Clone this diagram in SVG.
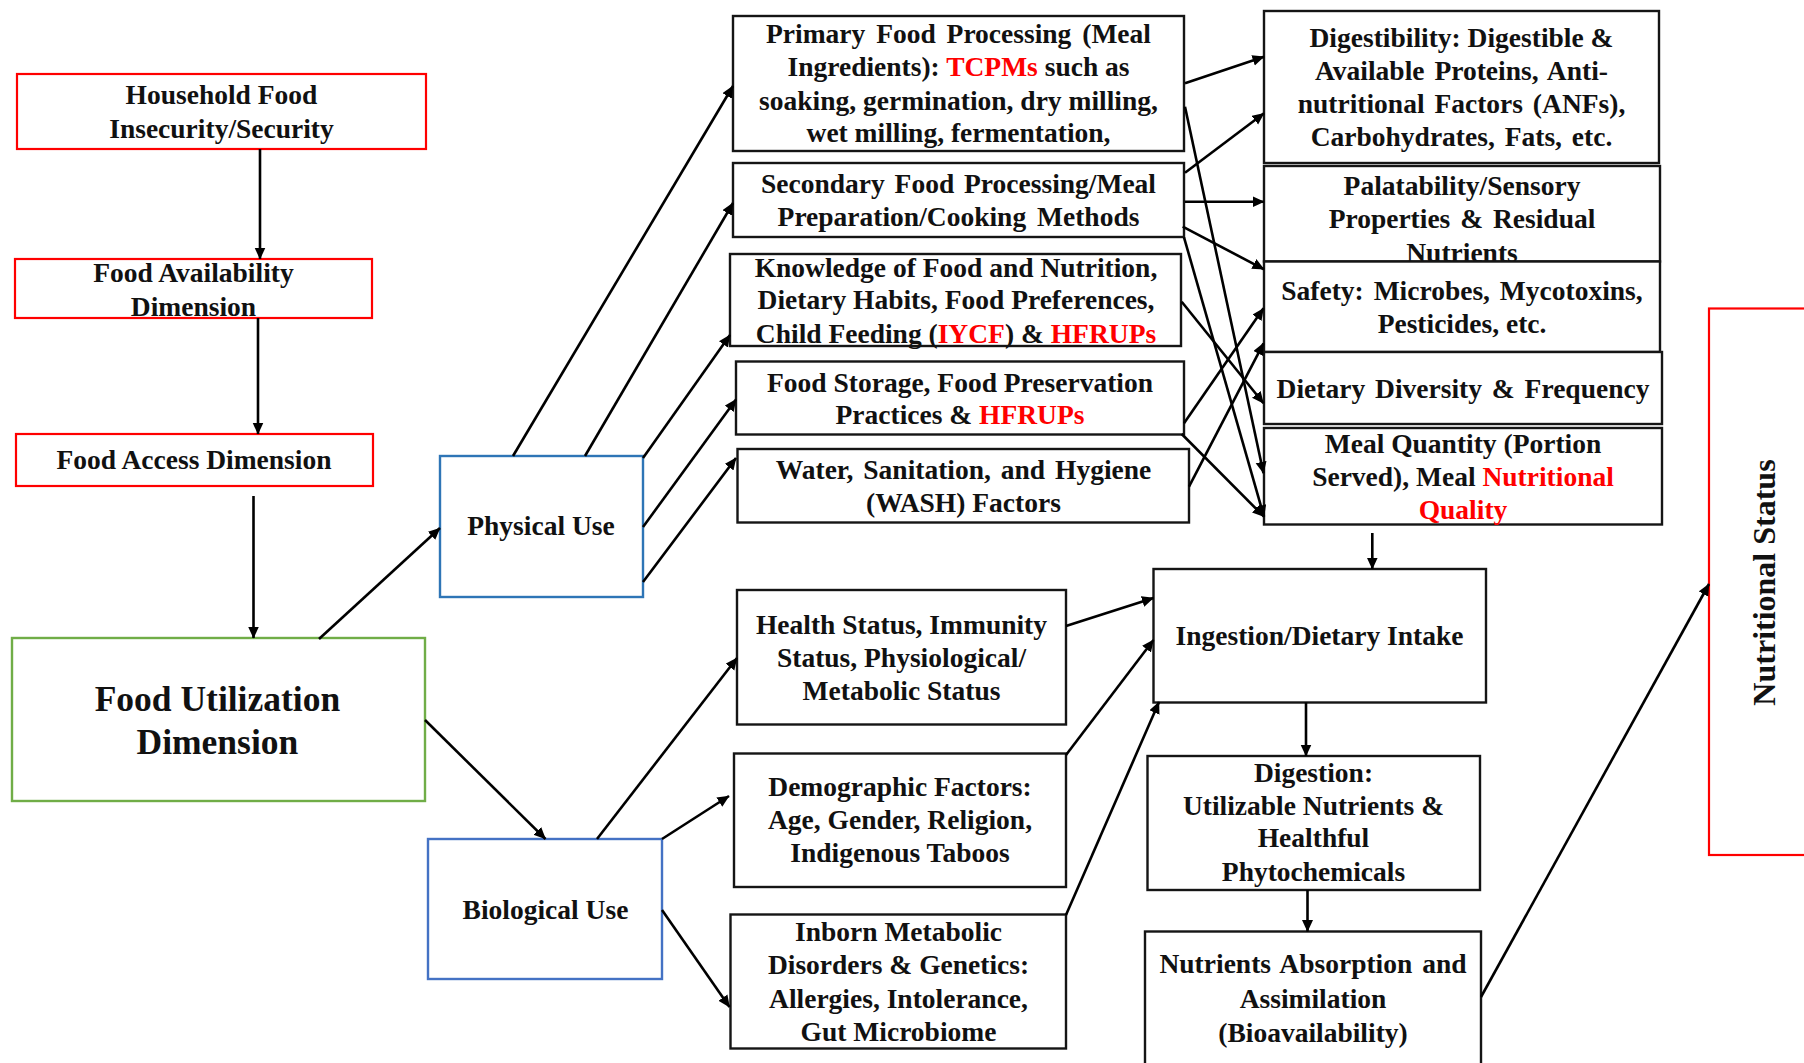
<svg xmlns="http://www.w3.org/2000/svg" width="1804" height="1063" viewBox="0 0 1804 1063">
  <style>
    .box { fill: #ffffff; stroke: #151515; stroke-width: 2.4; }
    .red { fill: #ffffff; stroke: #ff0000; stroke-width: 2.2; }
    .green { fill: #ffffff; stroke: #70ad47; stroke-width: 2.4; }
    .blue1 { fill: #ffffff; stroke: #2e75b6; stroke-width: 2.4; }
    .blue2 { fill: #ffffff; stroke: #4472c4; stroke-width: 2.4; }
    text { font-family: "Liberation Serif", "Times New Roman", serif; font-weight: bold; font-size: 27.5px; fill: #111111; text-anchor: middle; }
    .big { font-size: 35.5px; }
    .side { font-size: 32px; }
    .hl { fill: #ff0000; }
    .conn line { stroke: #000000; stroke-width: 2.6; fill: none; marker-end: url(#arrow); }
  </style>
  <defs>
    <marker id="arrow" markerUnits="userSpaceOnUse" markerWidth="13" markerHeight="12" refX="11.5" refY="5.5" orient="auto">
      <path d="M0,0 L12,5.5 L0,11 z" fill="#000000"/>
    </marker>
  </defs>

  <rect width="1804" height="1063" fill="#ffffff"/>

  <!-- left column: security dimensions -->
  <g id="household">
    <rect class="red" x="17" y="74" width="409" height="75"/>
    <text x="221.5" y="104.3">Household Food</text>
    <text x="221.5" y="138.3">Insecurity/Security</text>
  </g>
  <g id="availability">
    <rect class="red" x="15" y="259" width="357" height="59"/>
    <text x="193.5" y="281.7">Food Availability</text>
    <text x="193.5" y="315.7">Dimension</text>
  </g>
  <g id="access">
    <rect class="red" x="16" y="434" width="357" height="52"/>
    <text x="194" y="469.3">Food Access Dimension</text>
  </g>
  <g id="utilization">
    <rect class="green" x="12" y="638" width="413" height="163"/>
    <text class="big" x="217.4" y="711">Food Utilization</text>
    <text class="big" x="217.4" y="754">Dimension</text>
  </g>
  <g id="physical-use">
    <rect class="blue1" x="440" y="456" width="203" height="141"/>
    <text x="541" y="535">Physical Use</text>
  </g>
  <g id="biological-use">
    <rect class="blue2" x="428" y="839" width="234" height="140"/>
    <text x="545.5" y="919">Biological Use</text>
  </g>

  <!-- middle column: physical use factors -->
  <g id="primary-processing">
    <rect class="box" x="733" y="16" width="451" height="135"/>
    <text x="958.5" y="43" word-spacing="4">Primary Food Processing (Meal</text>
    <text x="958.5" y="75.8">Ingredients): <tspan class="hl">TCPMs</tspan> such as</text>
    <text x="958.5" y="109.5">soaking, germination, dry milling,</text>
    <text x="958.5" y="142.2">wet milling, fermentation,</text>
  </g>
  <g id="secondary-processing">
    <rect class="box" x="733" y="163" width="451" height="74"/>
    <text x="958.5" y="192.8" word-spacing="3">Secondary Food Processing/Meal</text>
    <text x="958.5" y="225.6" word-spacing="4">Preparation/Cooking Methods</text>
  </g>
  <g id="knowledge">
    <rect class="box" x="730" y="254" width="451" height="92"/>
    <text x="956" y="276.5">Knowledge of Food and Nutrition,</text>
    <text x="956" y="309.2">Dietary Habits, Food Preferences,</text>
    <text x="956" y="342.6">Child Feeding (<tspan class="hl">IYCF</tspan>) &amp; <tspan class="hl">HFRUPs</tspan></text>
  </g>
  <g id="storage">
    <rect class="box" x="736" y="361.5" width="448" height="73"/>
    <text x="960" y="391.5">Food Storage, Food Preservation</text>
    <text x="960" y="424.2">Practices &amp; <tspan class="hl">HFRUPs</tspan></text>
  </g>
  <g id="wash">
    <rect class="box" x="737.5" y="449" width="451.5" height="73.5"/>
    <text x="963.5" y="478.6" word-spacing="3">Water, Sanitation, and Hygiene</text>
    <text x="963.5" y="512">(WASH) Factors</text>
  </g>

  <!-- middle column: biological use factors -->
  <g id="health-status">
    <rect class="box" x="737" y="590" width="329" height="134.5"/>
    <text x="901.5" y="634">Health Status, Immunity</text>
    <text x="901.5" y="667.3">Status, Physiological/</text>
    <text x="901.5" y="700">Metabolic Status</text>
  </g>
  <g id="demographic">
    <rect class="box" x="734" y="753.5" width="332" height="133.5"/>
    <text x="900" y="795.7">Demographic Factors:</text>
    <text x="900" y="829">Age, Gender, Religion,</text>
    <text x="900" y="861.7">Indigenous Taboos</text>
  </g>
  <g id="inborn">
    <rect class="box" x="730.5" y="914.5" width="335.5" height="134"/>
    <text x="898.5" y="941">Inborn Metabolic</text>
    <text x="898.5" y="974">Disorders &amp; Genetics:</text>
    <text x="898.5" y="1007.7">Allergies, Intolerance,</text>
    <text x="898.5" y="1040.7">Gut Microbiome</text>
  </g>

  <!-- right column: meal attributes -->
  <g id="digestibility">
    <rect class="box" x="1264" y="11" width="395" height="152"/>
    <text x="1461.5" y="46.5">Digestibility: Digestible &amp;</text>
    <text x="1461.5" y="79.9" word-spacing="3">Available Proteins, Anti-</text>
    <text x="1461.5" y="112.6" word-spacing="3">nutritional Factors (ANFs),</text>
    <text x="1461.5" y="146.4" word-spacing="3">Carbohydrates, Fats, etc.</text>
  </g>
  <g id="palatability">
    <rect class="box" x="1264" y="166" width="396" height="95.5"/>
    <text x="1462" y="194.6">Palatability/Sensory</text>
    <text x="1462" y="228" word-spacing="3">Properties &amp; Residual</text>
    <text x="1462" y="262">Nutrients</text>
  </g>
  <g id="safety">
    <rect class="box" x="1264" y="261.5" width="396" height="90.5"/>
    <text x="1462" y="299.6" word-spacing="3">Safety: Microbes, Mycotoxins,</text>
    <text x="1462" y="333">Pesticides, etc.</text>
  </g>
  <g id="dietary-diversity">
    <rect class="box" x="1264" y="352" width="398" height="72"/>
    <text x="1463" y="398.4" word-spacing="3">Dietary Diversity &amp; Frequency</text>
  </g>
  <g id="meal-quantity">
    <rect class="box" x="1264" y="428" width="398" height="96.5"/>
    <text x="1463" y="452.8">Meal Quantity (Portion</text>
    <text x="1463" y="486.2">Served), Meal <tspan class="hl">Nutritional</tspan></text>
    <text x="1463" y="519.3" class="hl">Quality</text>
  </g>

  <!-- intake chain -->
  <g id="ingestion">
    <rect class="box" x="1153.5" y="569" width="332.5" height="133.5"/>
    <text x="1319.5" y="645">Ingestion/Dietary Intake</text>
  </g>
  <g id="digestion">
    <rect class="box" x="1147.5" y="756" width="332.5" height="134"/>
    <text x="1313.5" y="781.7">Digestion:</text>
    <text x="1313.5" y="815">Utilizable Nutrients &amp;</text>
    <text x="1313.5" y="847.3">Healthful</text>
    <text x="1313.5" y="881">Phytochemicals</text>
  </g>
  <g id="absorption">
    <rect class="box" x="1145" y="931.5" width="336" height="150"/>
    <text x="1313" y="973.3" word-spacing="3">Nutrients Absorption and</text>
    <text x="1313" y="1007.5">Assimilation</text>
    <text x="1313" y="1042">(Bioavailability)</text>
  </g>
  <g id="nutritional-status">
    <rect class="red" x="1709" y="308.5" width="110" height="546.5"/>
    <text class="side" x="1775" y="582.5" transform="rotate(-90 1775 582.5)">Nutritional Status</text>
  </g>

  <!-- connectors -->
  <g id="connectors" class="conn">
    <line x1="260" y1="149" x2="260" y2="259"/>
    <line x1="258" y1="318" x2="258" y2="434"/>
    <line x1="253.5" y1="496" x2="253.5" y2="638"/>
    <line x1="319" y1="639" x2="440" y2="528"/>
    <line x1="425" y1="720" x2="545.5" y2="839"/>

    <line x1="513" y1="456" x2="733" y2="86"/>
    <line x1="585" y1="456" x2="733" y2="203"/>
    <line x1="643" y1="458" x2="730" y2="335"/>
    <line x1="643" y1="527" x2="736" y2="399.5"/>
    <line x1="643" y1="582" x2="736" y2="458"/>

    <line x1="597" y1="839" x2="737" y2="658"/>
    <line x1="662" y1="839" x2="729" y2="796"/>
    <line x1="662" y1="910" x2="729.5" y2="1007"/>

    <line x1="1066" y1="626" x2="1153.5" y2="598"/>
    <line x1="1066" y1="755" x2="1153.5" y2="640"/>
    <line x1="1066" y1="915" x2="1159" y2="702"/>

    <line x1="1372.3" y1="533" x2="1372.3" y2="569"/>
    <line x1="1306" y1="702.5" x2="1306" y2="756"/>
    <line x1="1307.5" y1="890" x2="1307.5" y2="931.5"/>
    <line x1="1481" y1="997" x2="1709" y2="584"/>

    <line x1="1185" y1="83.3" x2="1264" y2="56.7"/>
    <line x1="1185" y1="106.7" x2="1263.5" y2="473.3"/>
    <line x1="1185" y1="172.7" x2="1264" y2="113.3"/>
    <line x1="1185" y1="201.7" x2="1264" y2="201.7"/>
    <line x1="1182.7" y1="226.7" x2="1264" y2="269.3"/>
    <line x1="1184" y1="237.3" x2="1264" y2="516.7"/>
    <line x1="1181.7" y1="301.7" x2="1263.5" y2="403.3"/>
    <line x1="1184" y1="423.3" x2="1263.5" y2="308.3"/>
    <line x1="1181.7" y1="434" x2="1264" y2="516.7"/>
    <line x1="1189" y1="486.7" x2="1263.5" y2="343.3"/>
  </g>
</svg>
